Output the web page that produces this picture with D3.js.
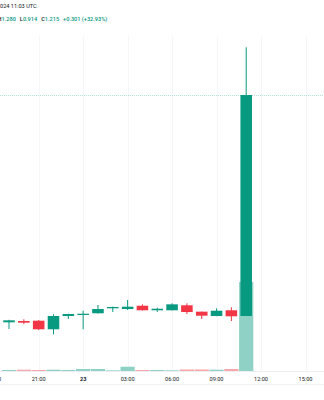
<!DOCTYPE html>
<html>
<head>
<meta charset="utf-8">
<script src="https://cdn.jsdelivr.net/npm/d3@7"></script>
<style>
  html, body { margin: 0; padding: 0; background: #fff; }
  svg { display: block; font-family: Roboto, "Noto Sans", sans-serif; }
</style>
</head>
<body>
<div id="chart"></div>
<script>
// hourly candles, UTC
const times = [
  "2024-03-22T19:00Z", "2024-03-22T20:00Z", "2024-03-22T21:00Z", "2024-03-22T22:00Z",
  "2024-03-22T23:00Z", "2024-03-23T00:00Z", "2024-03-23T01:00Z", "2024-03-23T02:00Z",
  "2024-03-23T03:00Z", "2024-03-23T04:00Z", "2024-03-23T05:00Z", "2024-03-23T06:00Z",
  "2024-03-23T07:00Z", "2024-03-23T08:00Z", "2024-03-23T09:00Z", "2024-03-23T10:00Z",
  "2024-03-23T11:00Z"
];
const opens  = [0.9054, 0.9072, 0.9076, 0.8959, 0.9140, 0.9154, 0.9177, 0.9245, 0.9235, 0.9280, 0.9218, 0.9218, 0.9286, 0.9199, 0.9140, 0.9218, 0.914];
const highs  = [0.9088, 0.9095, 0.9085, 0.9163, 0.9171, 0.9212, 0.9290, 0.9267, 0.9358, 0.9299, 0.9253, 0.9313, 0.9313, 0.9201, 0.9245, 0.9259, 1.280];
const lows   = [0.8963, 0.9031, 0.8952, 0.8891, 0.9099, 0.8959, 0.9174, 0.9194, 0.9222, 0.9215, 0.9194, 0.9215, 0.9167, 0.9099, 0.9137, 0.9072, 0.914];
const closes = [0.9081, 0.9049, 0.8959, 0.9140, 0.9167, 0.9171, 0.9235, 0.9263, 0.9267, 0.9218, 0.9239, 0.9299, 0.9194, 0.9144, 0.9212, 0.9136, 1.215];
const volumes = [10, 13, 10, 13, 10, 20, 20, 7, 43, 10, 10, 7, 15, 15, 13, 20, 890];

const headerDate = "024 11:03 UTC";
const ohlc = [["H", "1.280"], ["L", "0.914"], ["C", "1.215"]];
const change = "+0.301 (+32.93%)";

const width = 324, height = 400;
const up = "#089981", down = "#f23645";
const upVol = "#90d1c6", downVol = "#f9a5ab";

const data = times.map((t, i) => ({
  t: new Date(t), o: opens[i], h: highs[i], l: lows[i], c: closes[i], v: volumes[i]
}));

const svg = d3.select("#chart").append("svg")
  .attr("width", width).attr("height", height)
  .attr("viewBox", `0 0 ${width} ${height}`);

const x = d3.scaleUtc()
  .domain([new Date("2024-03-22T18:00Z"), new Date("2024-03-23T15:00Z")])
  .range([-5.8, 305.5]);
const step = x(new Date("2024-03-22T20:00Z")) - x(new Date("2024-03-22T19:00Z"));

const y = d3.scaleLinear().domain([0.914, 1.215]).range([316, 95]);
const yVol = d3.scaleLinear().domain([0, d3.max(volumes)]).range([371, 282]);

// vertical grid
const ticks = x.ticks(d3.utcHour.every(3));
svg.append("g").selectAll("line").data(ticks).enter().append("line")
  .attr("x1", d => Math.round(x(d)) + 0.5).attr("x2", d => Math.round(x(d)) + 0.5)
  .attr("y1", 36).attr("y2", 371)
  .attr("stroke", "#f5f6f9").attr("stroke-width", 1);

// axis lines
svg.append("line").attr("x1", 0).attr("x2", width).attr("y1", 371.5).attr("y2", 371.5)
  .attr("stroke", "#eceef2");
svg.append("line").attr("x1", 0).attr("x2", width).attr("y1", 384.5).attr("y2", 384.5)
  .attr("stroke", "#f0f1f4");

// volume
svg.append("g").selectAll("rect").data(data).enter().append("rect")
  .attr("x", d => x(d.t) - step / 2 + 0.3)
  .attr("width", step - 0.6)
  .attr("y", d => yVol(d.v))
  .attr("height", d => yVol(0) - yVol(d.v))
  .attr("fill", d => d.c >= d.o ? upVol : downVol);

// last price line
const lastY = Math.round(y(closes[closes.length - 1])) + 0.5;
svg.append("line")
  .attr("x1", 0).attr("x2", width)
  .attr("y1", lastY).attr("y2", lastY)
  .attr("stroke", up).attr("stroke-opacity", 0.3)
  .attr("stroke-dasharray", "1,1");

// candles
const candle = svg.append("g").selectAll("g").data(data).enter().append("g");
candle.append("line")
  .attr("x1", d => x(d.t)).attr("x2", d => x(d.t))
  .attr("y1", d => y(d.h)).attr("y2", d => y(d.l))
  .attr("stroke", d => d.c >= d.o ? up : down).attr("stroke-width", 1);
candle.append("rect")
  .attr("x", d => x(d.t) - step * 0.39)
  .attr("width", step * 0.78)
  .attr("y", d => y(Math.max(d.o, d.c)))
  .attr("height", d => Math.max(1, Math.abs(y(d.o) - y(d.c))))
  .attr("fill", d => d.c >= d.o ? up : down);

// time labels
svg.append("g").selectAll("text").data(ticks).enter().append("text")
  .attr("x", d => x(d)).attr("y", 380.5)
  .attr("text-anchor", "middle")
  .attr("font-size", 5.6)
  .attr("fill", "#131722")
  .attr("font-weight", d => d.getUTCHours() === 0 ? "bold" : "normal")
  .text(d => d.getUTCHours() === 0 ? d3.utcFormat("%-d")(d) : d3.utcFormat("%H:%M")(d));

// header
svg.append("text").attr("x", 0).attr("y", 8)
  .attr("font-size", 5.6).attr("fill", "#131722")
  .text(headerDate);

const line2 = svg.append("text").attr("x", -2.4).attr("y", 21)
  .attr("font-size", 5.6).attr("font-weight", 500).attr("xml:space", "preserve");
ohlc.forEach(([k, v], i) => {
  line2.append("tspan").attr("fill", "#131722").attr("dx", i ? 4 : 0).text(k);
  line2.append("tspan").attr("fill", up).text(v);
});
line2.append("tspan").attr("fill", up).attr("dx", 4).text(change);
</script>
</body>
</html>
